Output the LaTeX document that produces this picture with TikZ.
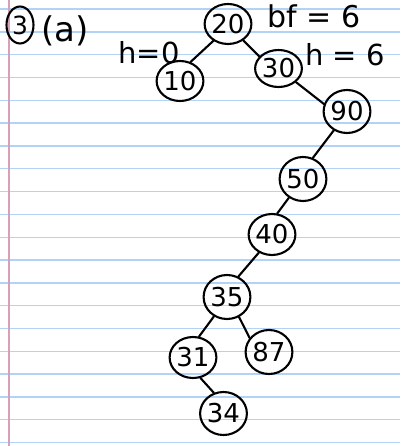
\documentclass[tikz,border=0pt]{standalone}
\usepackage{fontspec}
\setmainfont{DejaVu Sans}
\usetikzlibrary{shapes.geometric}
\definecolor{ruleblue}{RGB}{178,211,246}
\definecolor{marginred}{RGB}{215,160,184}
\begin{document}
\begin{tikzpicture}[x=1pt,y=-1pt,
  nd/.style={draw, ellipse, line width=2.1pt, inner sep=0pt, font=\fontsize{26}{26}\selectfont},
  edge/.style={line width=2.1pt, line cap=round},
  hand/.style={inner sep=0pt, font=\fontsize{29}{29}\selectfont},
  ruled/.style={draw=ruleblue, line width=1.4pt},
  margin/.style={draw=marginred, line width=1.6pt}]
\fill[white] (0,0) rectangle (400,446);
\useasboundingbox (0,0) rectangle (400,446);
\foreach \k in {0,...,19} \draw[ruled] (0,{9.2+22.8*\k}) -- (400,{9.2+22.8*\k});
\draw[margin] (9,0) -- (9,446);

% heading
\node[nd, minimum width=27pt, minimum height=37pt, font=\fontsize{25}{25}\selectfont] (q3) at (20,25) {3};
\node[hand, font=\fontsize{34}{34}\selectfont] (qa) at (65,31) {(a)};
\node[hand] (h0) at (149,53) {h=0};
\node[hand, font=\fontsize{30}{30}\selectfont] (bf) at (314,16) {bf = 6};
\node[hand] (h6) at (345,55) {h = 6};

% tree nodes
\node[nd, minimum width=42pt, minimum height=40pt] (n20) at (228,24) {20};
\node[nd, minimum width=38pt, minimum height=40pt] (n10) at (180,81) {10};
\node[nd, minimum width=42pt, minimum height=37pt] (n30) at (278.5,68.5) {30};
\node[nd, minimum width=42pt, minimum height=43pt] (n90) at (347,111.5) {90};
\node[nd, minimum width=46pt, minimum height=44pt] (n50) at (303,179) {50};
\node[nd, minimum width=46pt, minimum height=41pt] (n40) at (272,234.5) {40};
\node[nd, minimum width=44pt, minimum height=44pt] (n35) at (227,297) {35};
\node[nd, minimum width=38pt, minimum height=41pt] (n31) at (193,357.5) {31};
\node[nd, minimum width=40pt, minimum height=44pt] (n87) at (269,352) {87};
\node[nd, minimum width=43pt, minimum height=43pt] (n34) at (223.5,413.5) {34};

% edges
\draw[edge] (n20.229) -- (n10.61);
\draw[edge] (n20.313) -- (n30.148);
\draw[edge] (n30.322) -- (n90.162);
\draw[edge] (n90.235) -- (n50.65);
\draw[edge] (n50.233) -- (n40.76);
\draw[edge] (n40.234) -- (n35.61);
\draw[edge] (n35.236) -- (n31.74);
\draw[edge] (n35.301) -- (n87.144);
\draw[edge] (n31.290) -- (n34.115);
\end{tikzpicture}
\end{document}
